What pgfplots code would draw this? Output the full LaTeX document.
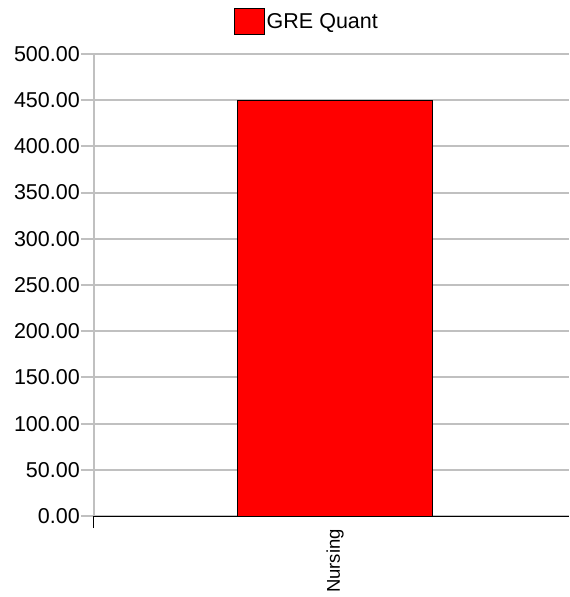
\documentclass[border=0pt]{standalone}
\usepackage{fontspec}
\setmainfont{Liberation Sans}
\usepackage{pgfplots}
\pgfplotsset{compat=1.18}
\definecolor{gridgray}{RGB}{192,192,192}
\begin{document}
\begin{tikzpicture}
\begin{axis}[
  scale only axis,
  width=475pt, height=462pt,
  xmin=-1.242, xmax=1.206,
  ymin=0, ymax=500,
  ytick={0,50,...,500},
  axis x line*=bottom,
  axis y line*=left,
  x axis line style={black, line width=1pt, -},
  y axis line style={gridgray, line width=2pt, -},
  ymajorgrids,
  grid style={gridgray, line width=2pt},
  tick align=outside,
  ytick style={gridgray, line width=2pt},
  major tick length=13pt,
  xtick={0},
  xticklabels={Nursing},
  xtick style={draw=none},
  extra x ticks={-1.242},
  extra x tick labels={},
  extra x tick style={grid=none, xtick style={black, line width=1pt, draw=black}, major tick length=12pt},
  yticklabel style={font=\fontsize{21.5}{25}\selectfont, black, inner sep=1pt},
  xticklabel style={font=\fontsize{18.5}{22}\selectfont, rotate=90, anchor=east, inner sep=0pt, yshift=0pt},
  xtick align=outside,
  /pgf/number format/.cd, fixed, fixed zerofill, precision=2, assume math mode=true,
  /pgfplots/.cd,
  ybar,
  bar width=1,
  bar shift=0,
  legend style={at={(0.448,1.041)}, anchor=south, draw=none, fill=none, inner sep=0pt,
    font=\fontsize{21.5}{25}\selectfont},
  legend image code/.code={\draw[#1, line width=1pt] (0pt,-13pt) rectangle (30pt,13pt);},
]
\addplot[fill=red, draw=black, line width=1pt] coordinates {(0,450)};
\addlegendentry{GRE Quant}
\end{axis}
\path (current axis.south west) ++(-94pt,-81pt) rectangle ++(569pt,597pt);
\end{tikzpicture}
\end{document}
